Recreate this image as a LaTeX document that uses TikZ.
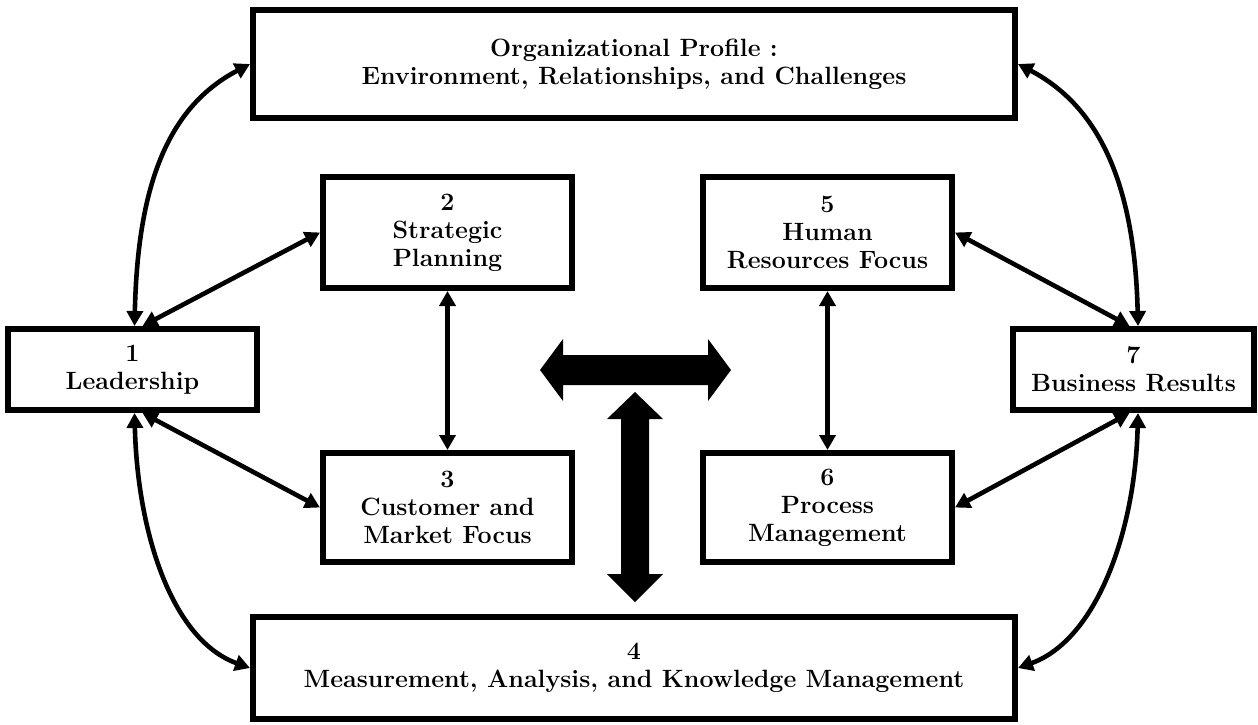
\documentclass[tikz,border=0pt]{standalone}
\usetikzlibrary{arrows.meta,calc}
\begin{document}
\begin{tikzpicture}[x=0.5pt,y=-0.5pt,
  box/.style={draw=black,line width=3pt,fill=white,align=center,inner sep=0pt,
    font=\fontsize{12.5}{14}\selectfont\bfseries},
  link/.style={line width=2.3pt,{Triangle[length=7.5pt,width=8pt]}-{Triangle[length=7.5pt,width=8pt]}},
  block/.style={fill=black}]
\useasboundingbox (0,0) rectangle (1258,724);
\node[box,minimum width=381pt,minimum height=54pt] (org) at (634,64) {Organizational Profile :\\Environment, Relationships, and Challenges};
\node[box,minimum width=381pt,minimum height=51pt] (b4) at (634,668) {4\\Measurement, Analysis, and Knowledge Management};
\node[box,minimum width=124.5pt,minimum height=40.5pt] (b1) at (132.5,369.5) {1\\Leadership};
\node[box,minimum width=120.5pt,minimum height=40.5pt] (b7) at (1133.5,369.5) {7\\Business Results};
\node[box,minimum width=124.5pt,minimum height=55.5pt] (b2) at (447.5,232.5) {2\\Strategic\\Planning};
\node[box,minimum width=124.5pt,minimum height=54.5pt] (b3) at (447.5,507.5) {3\\Customer and\\Market Focus};
\node[box,minimum width=124.5pt,minimum height=55.5pt] (b5) at (827.5,232.5) {5\\Human\\Resources Focus};
\node[box,minimum width=124.5pt,minimum height=54.5pt] (b6) at (827.5,507.5) {6\\Process\\Management};
% curved links
\draw[link] ([xshift=1pt]b1.north) .. controls +(3,-129) and +(-88,46) .. (org.west);
\draw[link] ([xshift=1pt]b1.south) .. controls +(3,120) and +(-78,-28) .. (b4.west);
\draw[link] (org.east) .. controls +(88,46) and +(-3,-129) .. ([xshift=2.25pt]b7.north);
\draw[link] ([xshift=2.25pt]b7.south) .. controls +(-3,120) and +(78,-28) .. (b4.east);
% straight links
\draw[link] ([xshift=5pt]b1.north) -- (b2.west);
\draw[link] ([xshift=5pt]b1.south) -- (b3.west);
\draw[link] ([xshift=-2pt]b7.north) -- (b5.east);
\draw[link] ([xshift=-2pt]b7.south) -- (b6.east);
\draw[link] (b2.south) -- (b3.north);
\draw[link] (b5.south) -- (b6.north);
% block arrows
\fill[block] (540,370) -- (563,339) -- (563,355) -- (708,355) -- (708,339) -- (731,370)
  -- (708,401) -- (708,385) -- (563,385) -- (563,401) -- cycle;
\fill[block] (635,392) -- (663,419) -- (649,419) -- (649,574) -- (663,574) -- (635,602)
  -- (607,574) -- (621,574) -- (621,419) -- (607,419) -- cycle;
\end{tikzpicture}
\end{document}
